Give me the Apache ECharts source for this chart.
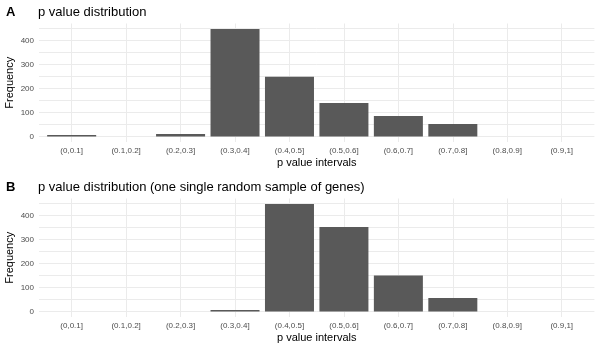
<!DOCTYPE html>
<html>
<head>
<meta charset="utf-8">
<script src="https://cdn.jsdelivr.net/npm/echarts@6/dist/echarts.min.js"></script>
<style>
  html, body { margin: 0; padding: 0; background: #fff; }
  #chart { width: 600px; height: 350px; }
</style>
</head>
<body>
<div id="chart"></div>
<script>
// p value bins
var intervals = ['(0,0.1]', '(0.1,0.2]', '(0.2,0.3]', '(0.3,0.4]', '(0.4,0.5]',
                 '(0.5,0.6]', '(0.6,0.7]', '(0.7,0.8]', '(0.8,0.9]', '(0.9,1]'];
// panel A - all genes
var freqAll = [7, 0, 11, 449, 249, 140, 86, 53, 0, 0];
// panel B - one random sample
var freqSample = [0, 0, 0, 7, 449, 353, 150, 57, 0, 0];

var titleA = 'p value distribution';
var titleB = 'p value distribution (one single random sample of genes)';

var font = 'Liberation Sans';
var gridColor = '#ebebeb';

function isInt(v) { return Math.abs(v - Math.round(v)) < 1e-6; }

// ggplot style padding: 0.6 of a bin on discrete axis, 5% on counts
function xAxisFor(idx) {
    return {
        type: 'value',
        gridIndex: idx,
        min: -0.6,
        max: intervals.length - 1 + 0.6,
        splitNumber: 10,
        name: 'p value intervals',
        nameLocation: 'middle',
        nameGap: 15,
        nameMoveOverlap: false,
        nameTextStyle: { fontFamily: font, fontSize: 11, color: '#000' },
        axisLine: { show: false },
        axisTick: { show: false },
        axisLabel: {
            fontFamily: font, fontSize: 8, color: '#4d4d4d', margin: 5,
            formatter: function (v) { return isInt(v) ? (intervals[Math.round(v)] || '') : ''; }
        },
        splitLine: { show: true, showMinLine: false, showMaxLine: false, lineStyle: { color: gridColor, width: 1 } }
    };
}

function yAxisFor(idx, values) {
    var top = Math.max.apply(null, values);
    return {
        type: 'value',
        gridIndex: idx,
        min: -top * 0.05,
        max: top * 1.05,
        splitNumber: 10,
        name: 'Frequency',
        nameLocation: 'middle',
        nameGap: 24,
        nameMoveOverlap: false,
        nameTextStyle: { fontFamily: font, fontSize: 11, color: '#000' },
        axisLine: { show: false },
        axisTick: { show: false },
        axisLabel: {
            fontFamily: font, fontSize: 8, color: '#4d4d4d', margin: 5,
            formatter: function (v) { return (isInt(v) && Math.round(v) % 100 === 0) ? Math.round(v) : ''; }
        },
        splitLine: { show: true, showMinLine: false, showMaxLine: false, lineStyle: { color: gridColor, width: 1 } }
    };
}

function toPoints(values) {
    return values.map(function (v, i) { return [i, v]; });
}

var myChart = echarts.init(document.getElementById('chart'));
var option = {
    animation: false,
    backgroundColor: '#fff',
    title: [
        { text: 'A', left: 6, top: 6, padding: 0, textStyle: { fontFamily: font, fontSize: 13, fontWeight: 'bold', color: '#000' } },
        { text: titleA, left: 38, top: 6, padding: 0, textStyle: { fontFamily: font, fontSize: 13, fontWeight: 'normal', color: '#000' } },
        { text: 'B', left: 6, top: 181, padding: 0, textStyle: { fontFamily: font, fontSize: 13, fontWeight: 'bold', color: '#000' } },
        { text: titleB, left: 38, top: 181, padding: 0, textStyle: { fontFamily: font, fontSize: 13, fontWeight: 'normal', color: '#000' } }
    ],
    grid: [
        { left: 39, right: 5.6, top: 23.5, height: 118.5, outerBoundsMode: 'none', containLabel: false },
        { left: 39, right: 5.6, top: 198.5, height: 118.5, outerBoundsMode: 'none', containLabel: false }
    ],
    xAxis: [xAxisFor(0), xAxisFor(1)],
    yAxis: [yAxisFor(0, freqAll), yAxisFor(1, freqSample)],
    series: [
        {
            type: 'bar', xAxisIndex: 0, yAxisIndex: 0, data: toPoints(freqAll),
            barWidth: '90%', itemStyle: { color: '#595959' }
        },
        {
            type: 'bar', xAxisIndex: 1, yAxisIndex: 1, data: toPoints(freqSample),
            barWidth: '90%', itemStyle: { color: '#595959' }
        }
    ]
};
myChart.setOption(option);
</script>
</body>
</html>
